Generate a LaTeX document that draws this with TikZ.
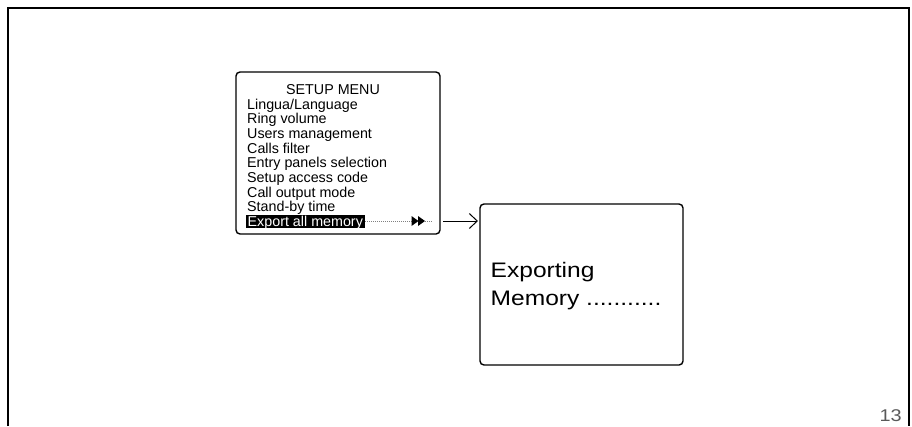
\documentclass[tikz,border=0pt]{standalone}
\usepackage{fontspec}
\setmainfont{Liberation Sans}
\newfontfamily\widefont{Liberation Sans}[FakeStretch=1.17]
\usetikzlibrary{arrows.meta}
\begin{document}
\begin{tikzpicture}[x=1pt,y=-1pt,
  screen/.style={draw=black,line width=1.4pt,rounded corners=4pt},
  menuitem/.style={anchor=base west,inner sep=0pt,font=\fontsize{14.3}{14}\selectfont},
  bigtext/.style={anchor=base west,inner sep=0pt,font=\widefont\fontsize{21}{28}\selectfont},
  frameline/.style={line width=1.3pt,black},
  dotline/.style={gray,line width=0.6pt,dash pattern=on 1pt off 1pt},
  flowarrow/.style={line width=1pt,-{Straight Barb[length=8pt,width=15pt,line width=1pt]}}]
\useasboundingbox (0,0) rectangle (912,426);
% page frame
\draw[frameline] (8,426) -- (8,8) -- (909,8) -- (909,426);
\node[anchor=base east,inner sep=0pt,text=black!65,font=\widefont\fontsize{17}{17}\selectfont] (pnum) at (902,421) {13};
% setup menu screen
\draw[screen] (236,72) rectangle (440,234);
\node[anchor=base,inner sep=0pt,font=\fontsize{14.3}{14}\selectfont] (title) at (333,94.3) {SETUP MENU};
\node[menuitem] (m1) at (247,109.0) {Lingua/Language};
\node[menuitem] (m2) at (247,123.7) {Ring volume};
\node[menuitem] (m3) at (247,138.4) {Users management};
\node[menuitem] (m4) at (247,153.1) {Calls filter};
\node[menuitem] (m5) at (247,167.8) {Entry panels selection};
\node[menuitem] (m6) at (247,182.5) {Setup access code};
\node[menuitem] (m7) at (247,197.2) {Call output mode};
\node[menuitem] (m8) at (247,211.9) {Stand-by time};
\fill[black] (246,214.8) rectangle (365,228);
\node[menuitem,text=white] (m9) at (247.5,226.3) {Export all memory};
\coordinate (hl) at (365,221);
\draw[dotline] (hl) -- (412,221);
\fill[black] (411.5,216) -- (418.5,221) -- (411.5,226) -- cycle;
\fill[black] (418,216) -- (425,221) -- (418,226) -- cycle;
\draw[dotline] (425,221) -- (433,221);
% exporting screen
\draw[screen] (480,204) rectangle (683,365);
\node[bigtext] (e1) at (490.5,277) {Exporting};
\node[bigtext] (e2) at (490.5,305) {Memory ...........};
\coordinate (box1e) at (443,221);
\coordinate (box2w) at (478,221);
\draw[flowarrow] (box1e) -- (box2w);
\end{tikzpicture}
\end{document}
